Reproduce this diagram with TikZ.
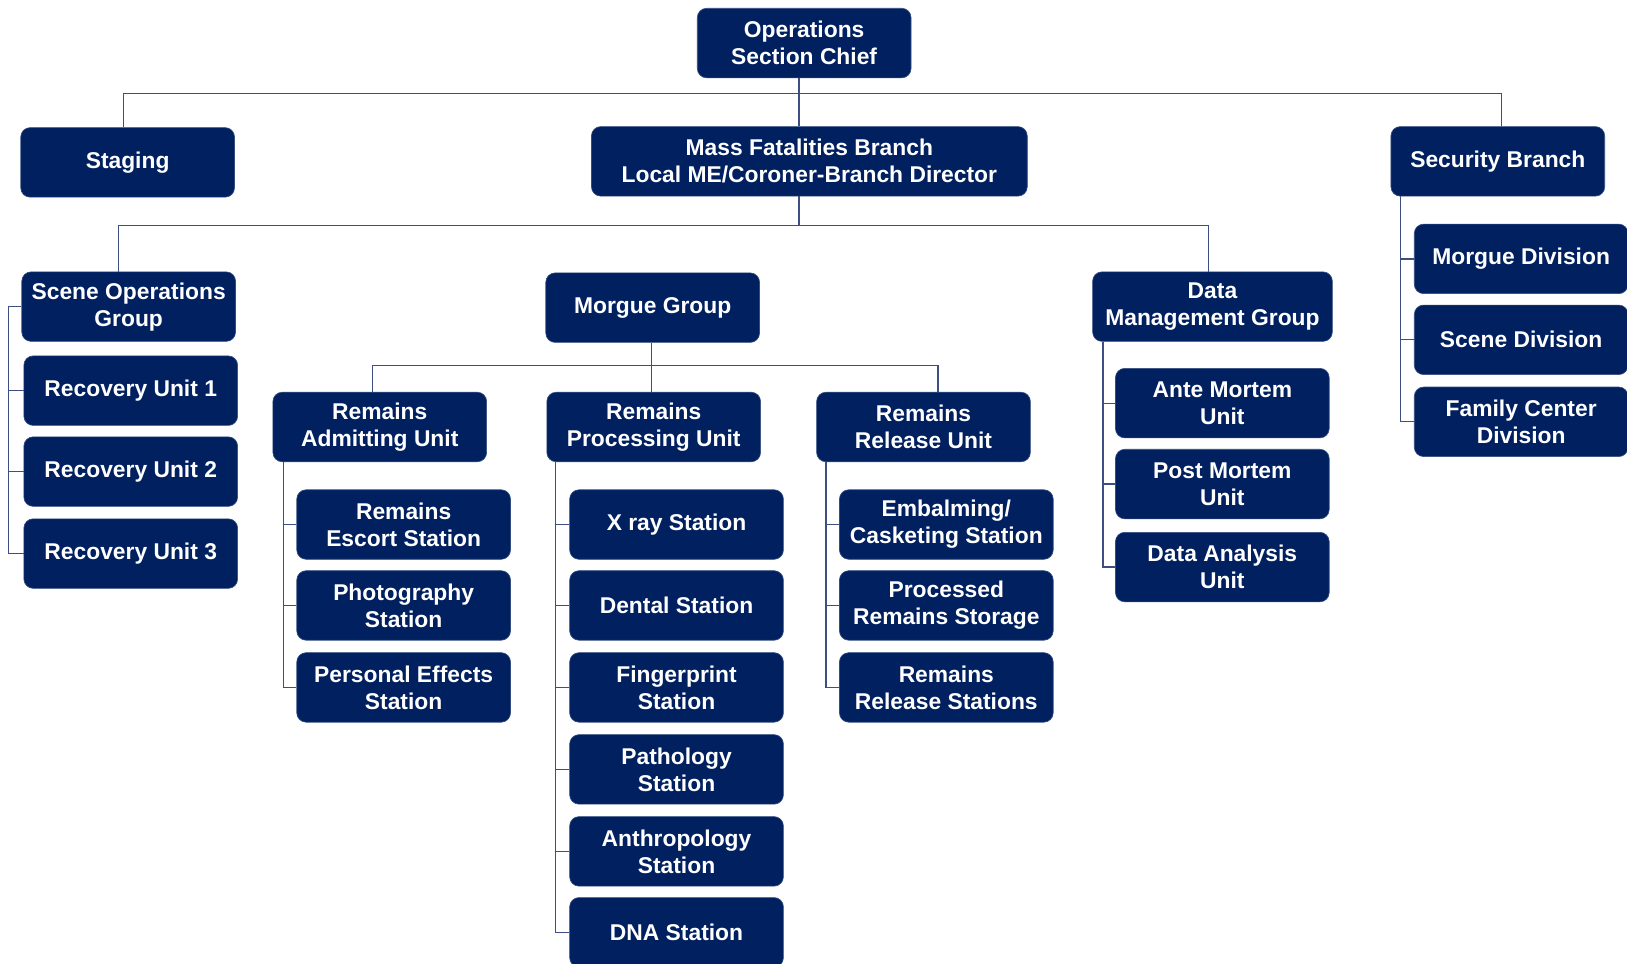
\documentclass[tikz,border=0pt]{standalone}
\usepackage{fontspec}
\setmainfont{Liberation Sans}
\definecolor{boxblue}{RGB}{0,32,96}
\definecolor{linecol}{RGB}{62,78,132}
\begin{document}
\begin{tikzpicture}[x=1pt,y=-1pt,
  box/.style={draw=boxblue!80!white, line width=0.6pt, fill=boxblue, rounded corners=9pt, text=white,
    font=\fontsize{22}{26}\selectfont\bfseries, align=center,
    minimum width=206pt, minimum height=67pt, inner sep=0pt},
  conn/.style={draw=linecol, line width=1.2pt}]
\useasboundingbox (0,0) rectangle (1568,929);
\clip (0,0) rectangle (1568,929);
\fill[white] (0,0) rectangle (1568,929);
% top level
\node[box] (ops) at (775,41.5) {Operations\\Section Chief};
\node[box] (staging) at (123,156.5) {Staging};
\node[box, minimum width=420pt] (mf) at (780,155.5) {Mass Fatalities Branch\\Local ME/Coroner-Branch Director};
\node[box] (sec) at (1443.5,155.5) {Security Branch};
% groups
\node[box] (sog) at (124,295.5) {Scene Operations\\Group};
\node[box] (mg) at (629,296.5) {Morgue Group};
\node[box, minimum width=231pt] (dm) at (1168.5,295.5) {Data\\Management Group};
% recovery units
\node[box] (ru1) at (126,376.5) {Recovery Unit 1};
\node[box] (ru2) at (126,454.5) {Recovery Unit 2};
\node[box] (ru3) at (126,533.5) {Recovery Unit 3};
% morgue units
\node[box] (adm) at (366,411.5) {Remains\\Admitting Unit};
\node[box] (proc) at (630,411.5) {Remains\\Processing Unit};
\node[box] (rel) at (890,411.5) {Remains\\Release Unit};
% admitting stations
\node[box] (esc) at (389,505.5) {Remains\\Escort Station};
\node[box] (photo) at (389,583.5) {Photography\\Station};
\node[box] (pe) at (389,662.5) {Personal Effects\\Station};
% processing stations
\node[box] (xray) at (652,505.5) {X ray Station};
\node[box] (dental) at (652,583.5) {Dental Station};
\node[box] (fp) at (652,662.5) {Fingerprint\\Station};
\node[box] (path) at (652,741.5) {Pathology\\Station};
\node[box] (anth) at (652,820.5) {Anthropology\\Station};
\node[box] (dna) at (652,898.5) {DNA Station};
% release stations
\node[box] (emb) at (912,505.5) {Embalming/\\Casketing Station};
\node[box] (prs) at (912,583.5) {Processed\\Remains Storage};
\node[box] (rrs) at (912,662.5) {Remains\\Release Stations};
% data management units
\node[box] (am) at (1178,388.5) {Ante Mortem\\Unit};
\node[box] (pm) at (1178,466.5) {Post Mortem\\Unit};
\node[box] (da) at (1178,546.5) {Data Analysis\\Unit};
% security divisions
\node[box] (md) at (1466,249.5) {Morgue Division};
\node[box] (sd) at (1466,327.5) {Scene Division};
\node[box] (fcd) at (1466,406.5) {Family Center\\Division};

% bus coordinates
\coordinate (b1) at (770,90);
\coordinate (b2) at (770,217);
\coordinate (b3) at (628,352);
\coordinate (xst) at (119,0);
\coordinate (xsec) at (1447,0);
\coordinate (xsog) at (114,0);
\coordinate (xdm) at (1165,0);
\coordinate (xadm) at (359,0);
\coordinate (xrel) at (904,0);
\coordinate (s1) at (8,0);
\coordinate (s2) at (273,0);
\coordinate (s3) at (535,0);
\coordinate (s4) at (796,0);
\coordinate (s5) at (1063,0);
\coordinate (s6) at (1350,0);

% top level connectors
\draw[conn] (ops.south -| b1) -- (mf.north -| b1);
\draw[conn] (staging.north -| xst) |- (b1) -| (sec.north -| xsec);
% branch connectors
\draw[conn] (mf.south -| b2) -- (b2);
\draw[conn] (sog.north -| xsog) |- (b2) -| (dm.north -| xdm);
% morgue group
\draw[conn] (mg.south -| b3) -- (proc.north -| b3);
\draw[conn] (adm.north -| xadm) |- (b3) -| (rel.north -| xrel);
% scene operations side branch
\draw[conn] (sog.west) -- (sog.west -| s1) |- (ru3.west);
\draw[conn] (ru1.west -| s1) -- (ru1.west);
\draw[conn] (ru2.west -| s1) -- (ru2.west);
% admitting
\draw[conn] (adm.south -| s2) |- (pe.west);
\draw[conn] (esc.west -| s2) -- (esc.west);
\draw[conn] (photo.west -| s2) -- (photo.west);
% processing
\draw[conn] (proc.south -| s3) |- (dna.west);
\draw[conn] (xray.west -| s3) -- (xray.west);
\draw[conn] (dental.west -| s3) -- (dental.west);
\draw[conn] (fp.west -| s3) -- (fp.west);
\draw[conn] (path.west -| s3) -- (path.west);
\draw[conn] (anth.west -| s3) -- (anth.west);
% release
\draw[conn] (rel.south -| s4) |- (rrs.west);
\draw[conn] (emb.west -| s4) -- (emb.west);
\draw[conn] (prs.west -| s4) -- (prs.west);
% data management
\draw[conn] (dm.south -| s5) |- (da.west);
\draw[conn] (am.west -| s5) -- (am.west);
\draw[conn] (pm.west -| s5) -- (pm.west);
% security
\draw[conn] (sec.south -| s6) |- (fcd.west);
\draw[conn] (md.west -| s6) -- (md.west);
\draw[conn] (sd.west -| s6) -- (sd.west);
\end{tikzpicture}
\end{document}
